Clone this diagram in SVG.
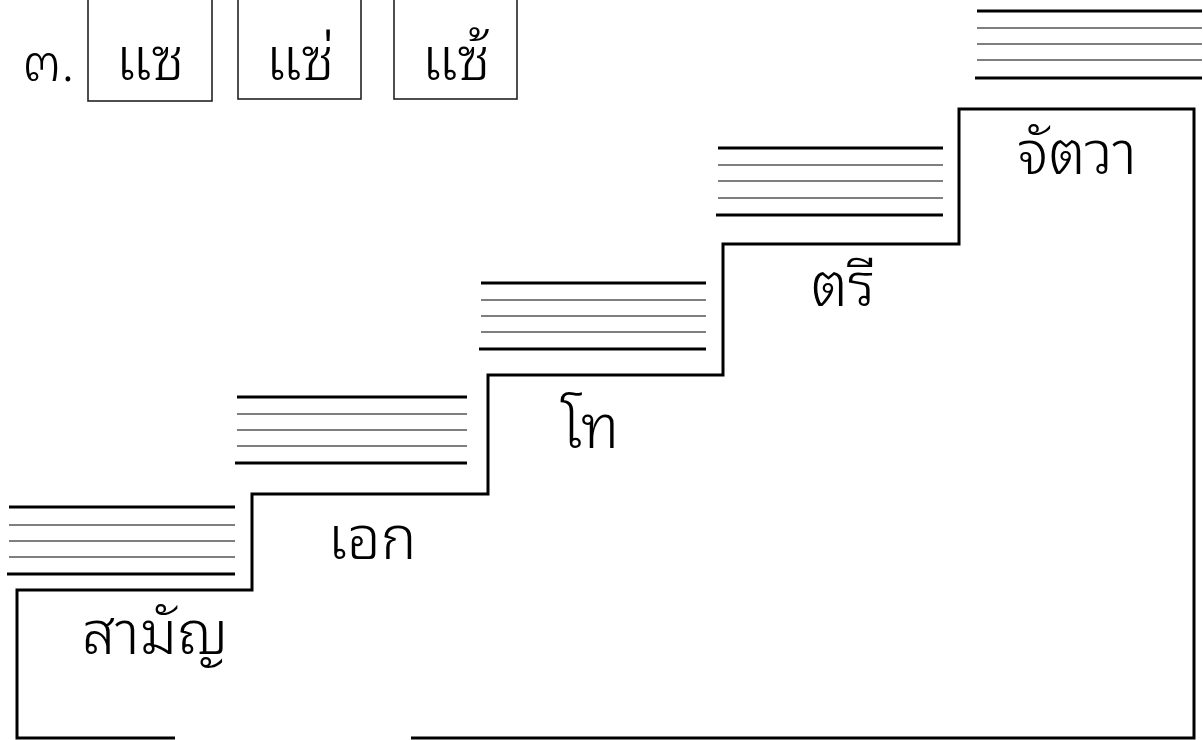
<svg xmlns="http://www.w3.org/2000/svg" width="1203" height="740" viewBox="0 0 1203 740">
<style>
  .stair{fill:none;stroke:#000;stroke-width:3}
  .box{fill:#fff;stroke:#222;stroke-width:1.6}
  .thick{stroke:#000;stroke-width:3.2}
  .thin{stroke:#555;stroke-width:1.4}
  .lbl{font-family:"Noto Sans Thai Looped","Noto Sans",sans-serif;font-weight:350;font-size:60px;fill:#000;text-anchor:middle}
  .syl{font-family:"Noto Sans Thai Looped","Noto Sans",sans-serif;font-weight:350;font-size:60px;fill:#000;text-anchor:middle}
  .num{font-family:"Noto Sans Thai Looped","Noto Sans",sans-serif;font-weight:350;font-size:54px;fill:#000}
</style>
<rect width="1203" height="740" fill="#fff"/>
<g id="connectors">
  <path class="stair" d="M175,738 H17 V590 H252 V494 H488 V375 H723 V244 H959 V109 H1194 V738 H411"/>
</g>
<g id="lines-0">
  <line class="thick" x1="9" y1="507" x2="235" y2="507"/>
  <line class="thin" x1="9" y1="525" x2="235" y2="525"/>
  <line class="thin" x1="9" y1="541" x2="235" y2="541"/>
  <line class="thin" x1="9" y1="557" x2="235" y2="557"/>
  <line class="thick" x1="7" y1="574" x2="235" y2="574"/>
</g>
<g id="lines-1">
  <line class="thick" x1="237" y1="397" x2="467" y2="397"/>
  <line class="thin" x1="237" y1="414" x2="467" y2="414"/>
  <line class="thin" x1="237" y1="430" x2="467" y2="430"/>
  <line class="thin" x1="237" y1="446" x2="467" y2="446"/>
  <line class="thick" x1="235" y1="463" x2="467" y2="463"/>
</g>
<g id="lines-2">
  <line class="thick" x1="481" y1="283" x2="706" y2="283"/>
  <line class="thin" x1="481" y1="300" x2="706" y2="300"/>
  <line class="thin" x1="481" y1="316" x2="706" y2="316"/>
  <line class="thin" x1="481" y1="332" x2="706" y2="332"/>
  <line class="thick" x1="479" y1="349" x2="706" y2="349"/>
</g>
<g id="lines-3">
  <line class="thick" x1="718" y1="148" x2="943" y2="148"/>
  <line class="thin" x1="718" y1="165" x2="943" y2="165"/>
  <line class="thin" x1="718" y1="181" x2="943" y2="181"/>
  <line class="thin" x1="718" y1="198" x2="943" y2="198"/>
  <line class="thick" x1="716" y1="215" x2="943" y2="215"/>
</g>
<g id="lines-4">
  <line class="thick" x1="977" y1="11" x2="1202" y2="11"/>
  <line class="thin" x1="977" y1="28" x2="1202" y2="28"/>
  <line class="thin" x1="977" y1="44" x2="1202" y2="44"/>
  <line class="thin" x1="977" y1="60" x2="1202" y2="60"/>
  <line class="thick" x1="975" y1="78" x2="1202" y2="78"/>
</g>
<g id="step-samun"><text class="lbl" x="155" y="654">สามัญ</text></g>
<g id="step-ek"><text class="lbl" x="372" y="559">เอก</text></g>
<g id="step-tho"><text class="lbl" x="590" y="448">โท</text></g>
<g id="step-tri"><text class="lbl" x="843" y="306">ตรี</text></g>
<g id="step-chattawa"><text class="lbl" x="1077" y="174">จัตวา</text></g>
<g id="number"><text class="num" x="22" y="81">๓.</text></g>
<g id="box-1"><rect class="box" x="88" y="-3" width="124" height="104"/><text class="syl" x="150" y="80">แซ</text></g>
<g id="box-2"><rect class="box" x="238" y="-3" width="123" height="102"/><text class="syl" x="300" y="80">แซ่</text></g>
<g id="box-3"><rect class="box" x="394" y="-3" width="123" height="102"/><text class="syl" x="456" y="80">แซ้</text></g>
</svg>
